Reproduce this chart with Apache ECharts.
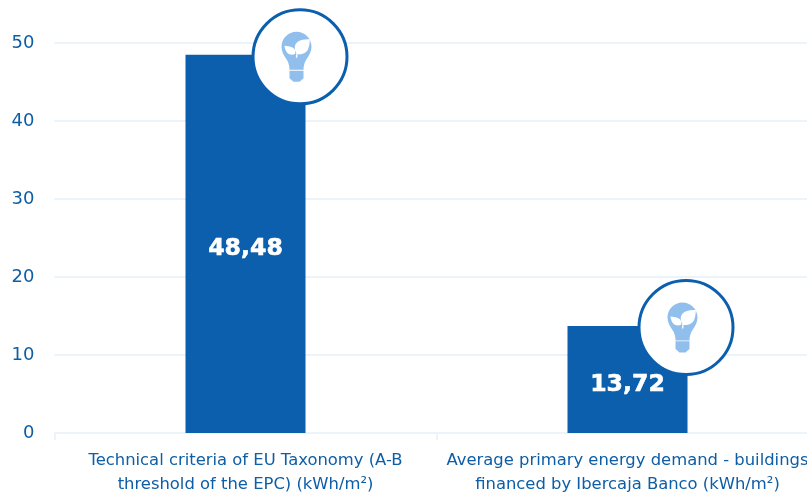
<!DOCTYPE html>
<html><head><meta charset="utf-8">
<style>html,body{margin:0;padding:0;background:#fff;overflow:hidden}#c{width:807px;height:498px}</style>
<script src="https://cdn.jsdelivr.net/npm/echarts@6/dist/echarts.min.js"></script>
</head><body><div id="c"></div>
<script>
const categories = ['Technical criteria of EU Taxonomy (A-B\nthreshold of the EPC) (kWh/m²)', 'Average primary energy demand - buildings\nfinanced by Ibercaja Banco (kWh/m²)'];
const values = [48.48, 13.72];
const valueLabels = ['48,48', '13,72'];
const badgeOffsetX = [54.5, 58.5];
const badgeOffsetY = [2, 1.5];
const BLUE = '#0b5fad', TEXT = '#0d5ea6', GRID = '#ebf3fb', BULB = '#90bfee';
const bulbPath = 'M15 0C6.7 0 0 6.7 0 15C0 20 2.5 24 5 27.5C7 30.5 8 34 8 38L22 38C22 34 23 30.5 25 27.5C27.5 24 30 20 30 15C30 6.7 23.3 0 15 0ZM8 38.8H22V46.5L18 50H12L8 46.5Z';
const leafBig = 'M28.5 7.5C22 7.5 16 8.5 14 13C12.8 16 13.5 19 15 21.5L14.6 26H16L16.2 22.5C21 23 25.5 21 27 17C28.2 13.5 28.5 10.5 28.5 7.5Z';
const leafSmall = 'M3 14C3.5 18 5 21.5 8 22.5C10 23.2 12 23 13.8 22C14 19 13.3 16.8 11 15.7C8.5 14.5 5.5 14.4 3 14Z';
const chart = echarts.init(document.getElementById('c'), null, {renderer:'canvas'});
chart.setOption({
  animation:false,
  grid:{left:54.5,width:764,top:43,height:390,outerBoundsMode:'none',containLabel:false},
  xAxis:{type:'category',data:categories,
    axisLine:{lineStyle:{color:GRID,width:2}},
    axisTick:{show:true,alignWithLabel:false,length:7,lineStyle:{color:GRID,width:2}},
    axisLabel:{color:TEXT,fontFamily:'"DejaVu Sans"',fontSize:16.4,lineHeight:24,margin:16,interval:0,hideOverlap:false}},
  yAxis:{type:'value',min:0,max:50,interval:10,
    axisLine:{show:false},axisTick:{show:false},
    splitLine:{lineStyle:{color:GRID,width:2}},
    axisLabel:{color:TEXT,fontFamily:'"DejaVu Sans"',fontSize:18,margin:20,padding:[6,0,0,0]}},
  series:[
   {type:'bar',data:values,barWidth:120,itemStyle:{color:BLUE},z:2,
    label:{show:true,position:'inside',offset:[0,5],color:'#fff',fontFamily:'"DejaVu Sans"',fontWeight:'bold',fontSize:23.6,
      textBorderColor:'#fff',textBorderWidth:0.6,
      formatter:p=>valueLabels[p.dataIndex]}},
   {type:'custom',data:values.map((v,i)=>[i,v]),z:5,clip:false,silent:true,
    renderItem:(params,api)=>{
      const i=params.dataIndex;
      const p=api.coord([api.value(0),api.value(1)]);
      const cx=p[0]+badgeOffsetX[i], cy=p[1]+badgeOffsetY[i];
      const bx=cx-18.5, by=cy-25;
      return {type:'group',children:[
        {type:'circle',shape:{cx,cy,r:47},style:{fill:'#fff',stroke:BLUE,lineWidth:3}},
        {type:'path',shape:{pathData:bulbPath,x:bx,y:by,width:30,height:50},style:{fill:BULB}},
        {type:'path',shape:{pathData:leafBig,x:bx+13,y:by+7.5,width:15.5,height:18.5},style:{fill:'#fff'}},
        {type:'path',shape:{pathData:leafSmall,x:bx+3,y:by+14,width:10.8,height:8.9},style:{fill:'#fff'}}
      ]};
    }}
  ]
});
</script></body></html>
